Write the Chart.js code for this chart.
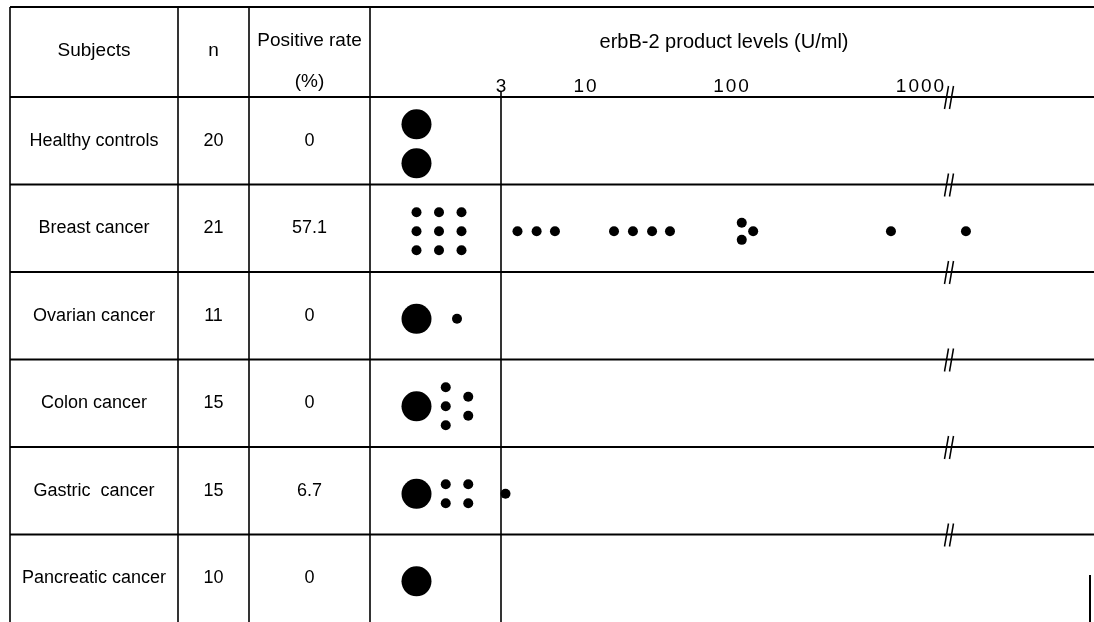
<!DOCTYPE html>
<html><head><meta charset="utf-8">
<script src="https://cdn.jsdelivr.net/npm/chart.js@4.4.0/dist/chart.umd.min.js"></script>
<style>html,body{margin:0;padding:0;background:#fff;overflow:hidden}#wrap{width:1094px;height:622px;position:relative}</style>
</head><body><div id="wrap"><canvas id="c" width="1094" height="622"></canvas></div>
<script>
// ---------------- data ----------------
const subjects = ['Healthy controls', 'Breast cancer', 'Ovarian cancer', 'Colon cancer', 'Gastric  cancer', 'Pancreatic cancer'];
const nCases = ['20', '21', '11', '15', '15', '10'];
const positiveRate = ['0', '57.1', '0', '0', '6.7', '0'];
// cases below the cut-off (3 U/ml)
const negativeCounts = [20, 9, 11, 15, 14, 10];
// individual values above the cut-off (U/ml)
const breastPositive = [3.8, 5.0, 6.5, 15.8, 21.3, 28.8, 38.2, 114, 114, 131, 702, 1750];
const gastricPositive = [3.2];
const positiveValues = [[], breastPositive, [], [], gastricPositive, []];
const tickValues = [3, 10, 100, 1000];
const tickLabels = ['3', '10', '100', '1000'];
const cutoff = 3;
const axisBreakValue = 1450;
const casesPerLargeDot = 10;
const headerLabels = ['Subjects', 'n', 'Positive rate', '(%)', 'erbB-2 product levels (U/ml)'];

// ---------------- layout / style ----------------
const FONT = '"Liberation Sans", Arial, Helvetica, sans-serif';
const TICK_OFFSETS = [131, 215, 361, 550];   // px from plot left for tickValues
const BIG_SLOT = -1, SIDE_CENTER = 0.8, GRID_CENTER = 0, COL_STEP = 1;
const SMALL_STEP = 0.217, BIG_STEP = 0.446, DOT_SHIFT = 0.035;

class BrokenLogScale extends Chart.LinearScale {
  static id = 'brokenLog';
  _seg(value) {
    let i = 0;
    while (i < tickValues.length - 2 && value > tickValues[i + 1]) i++;
    return i;
  }
  getPixelForValue(value) {
    const i = this._seg(value);
    const l0 = Math.log10(tickValues[i]), l1 = Math.log10(tickValues[i + 1]);
    const f = (Math.log10(value) - l0) / (l1 - l0);
    return this.left + TICK_OFFSETS[i] + f * (TICK_OFFSETS[i + 1] - TICK_OFFSETS[i]);
  }
  getValueForPixel(pixel) {
    const p = pixel - this.left;
    let i = 0;
    while (i < TICK_OFFSETS.length - 2 && p > TICK_OFFSETS[i + 1]) i++;
    const l0 = Math.log10(tickValues[i]), l1 = Math.log10(tickValues[i + 1]);
    const f = (p - TICK_OFFSETS[i]) / (TICK_OFFSETS[i + 1] - TICK_OFFSETS[i]);
    return Math.pow(10, l0 + f * (l1 - l0));
  }
}
Chart.register(BrokenLogScale);

// ---------------- build point sets from counts / values ----------------
const bigPts = [], smallPts = [], posPts = [];
subjects.forEach((s, i) => {
  const yc = i + DOT_SHIFT;
  const neg = negativeCounts[i];
  const bigs = Math.floor(neg / casesPerLargeDot);
  const smalls = neg % casesPerLargeDot;
  for (let b = 0; b < bigs; b++) bigPts.push({x: BIG_SLOT, y: yc + (b - (bigs - 1) / 2) * BIG_STEP});
  if (smalls > 0) {
    const nCols = Math.ceil(smalls / 3);
    const base = Math.floor(smalls / nCols), extra = smalls % nCols;
    const center = bigs === 0 ? GRID_CENTER : SIDE_CENTER;
    for (let c = 0; c < nCols; c++) {
      const cnt = base + (c < extra ? 1 : 0);
      const x = center + (c - (nCols - 1) / 2) * COL_STEP;
      for (let r = 0; r < cnt; r++) smallPts.push({x, y: yc + (r - (cnt - 1) / 2) * SMALL_STEP});
    }
  }
  const vals = positiveValues[i];
  const seen = {};
  vals.forEach(v => {
    const m = vals.filter(w => w === v).length;
    const k = seen[v] = (seen[v] === undefined ? 0 : seen[v] + 1);
    posPts.push({x: v, y: yc + (k - (m - 1) / 2) * SMALL_STEP * (m > 1 ? 0.9 : 0)});
  });
});

// ---------------- table plugin ----------------
const tablePlugin = {
  id: 'table',
  beforeDraw(chart) {
    const ctx = chart.ctx;
    ctx.save();
    ctx.fillStyle = '#fff';
    ctx.fillRect(0, 0, chart.width, chart.height);
    ctx.restore();
  },
  beforeDatasetsDraw(chart) {
    const ctx = chart.ctx, a = chart.chartArea;
    const xs = chart.scales.x, ys = chart.scales.y;
    const L = 10, C1 = 178, C2 = 249, C3 = a.left, TOP = 7, R = chart.width;
    ctx.save();
    ctx.strokeStyle = '#000';
    ctx.lineCap = 'butt';
    const line = (x1, y1, x2, y2, w) => { ctx.lineWidth = w; ctx.beginPath(); ctx.moveTo(x1, y1); ctx.lineTo(x2, y2); ctx.stroke(); };
    // horizontals
    line(L, TOP, R, TOP, 2);
    const bounds = [];
    for (let i = 0; i < subjects.length; i++) bounds.push(ys.getPixelForValue(i - 0.5));
    bounds.forEach(y => line(L, y, R, y, 2.2));
    // verticals
    [L, C1, C2, C3].forEach(x => line(x, TOP, x, a.bottom, 1.6));
    const xc = xs.getPixelForValue(cutoff);
    line(xc, 91, xc, a.bottom, 1.6);
    line(R - 4, 575, R - 4, a.bottom, 2);
    // axis breaks
    const xb = xs.getPixelForValue(axisBreakValue);
    bounds.forEach(y => {
      line(xb - 6, y + 12, xb - 2, y - 11, 1.5);
      line(xb - 1, y + 12, xb + 3, y - 11, 1.5);
    });
    // text
    ctx.fillStyle = '#000';
    ctx.textAlign = 'center';
    ctx.textBaseline = 'middle';
    ctx.font = '19px ' + FONT;
    const colX = [(L + C1) / 2, (C1 + C2) / 2, (C2 + C3) / 2];
    ctx.fillText(headerLabels[0], colX[0], 51);
    ctx.fillText(headerLabels[1], colX[1], 51);
    ctx.fillText(headerLabels[2], colX[2], 41);
    ctx.fillText(headerLabels[3], colX[2], 82);
    ctx.font = '20px ' + FONT;
    ctx.fillText(headerLabels[4], 724, 42);
    ctx.font = '18px ' + FONT;
    subjects.forEach((s, i) => {
      const y = ys.getPixelForValue(i);
      ctx.fillText(s, colX[0], y);
      ctx.fillText(nCases[i], colX[1], y);
      ctx.fillText(positiveRate[i], colX[2], y);
    });
    // tick labels
    ctx.textBaseline = 'alphabetic';
    ctx.font = '19px ' + FONT;
    ctx.letterSpacing = '2px';
    tickValues.forEach((v, i) => {
      ctx.fillText(tickLabels[i], xs.getPixelForValue(v) + 1, 92);
    });
    ctx.restore();
  }
};

new Chart(document.getElementById('c'), {
  type: 'scatter',
  data: {
    datasets: [
      {data: bigPts, xAxisID: 'slot', pointRadius: 15, backgroundColor: '#000', borderWidth: 0, pointHoverRadius: 15},
      {data: smallPts, xAxisID: 'slot', pointRadius: 5, backgroundColor: '#000', borderWidth: 0, pointHoverRadius: 5},
      {data: posPts, xAxisID: 'x', pointRadius: 5, backgroundColor: '#000', borderWidth: 0, pointHoverRadius: 5}
    ]
  },
  options: {
    responsive: false,
    animation: false,
    devicePixelRatio: 1,
    layout: {autoPadding: false, padding: {left: 370, top: 97, right: 0, bottom: 0}},
    plugins: {legend: {display: false}, tooltip: {enabled: false}},
    events: [],
    scales: {
      x: {type: 'brokenLog', display: false, min: 1, max: 5000},
      slot: {type: 'linear', display: false, min: -69 / 22.5, max: (724 - 69) / 22.5},
      y: {type: 'linear', display: false, reverse: true, min: -0.5, max: subjects.length - 0.5}
    }
  },
  plugins: [tablePlugin]
});
</script></body></html>
